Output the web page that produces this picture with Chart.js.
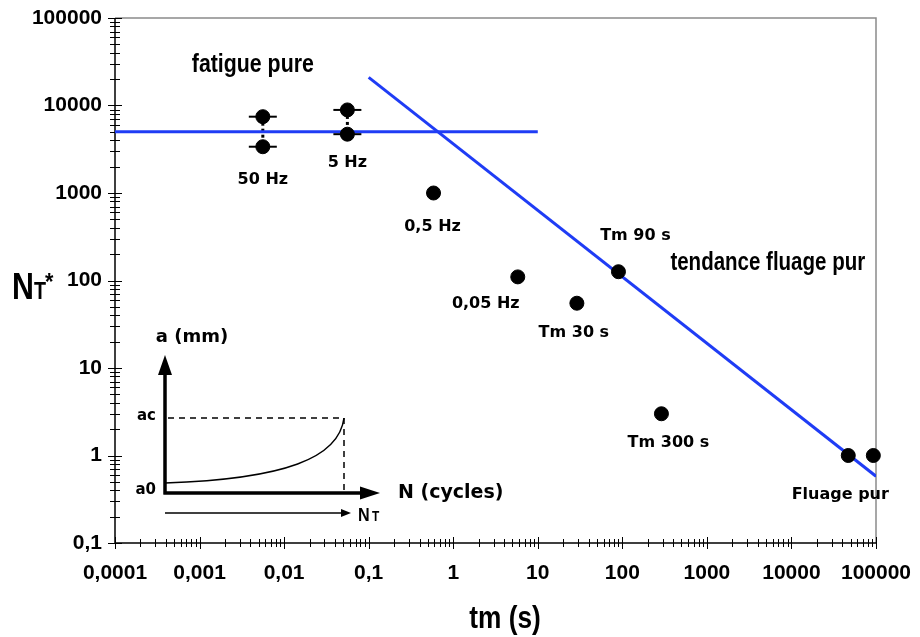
<!DOCTYPE html>
<html lang="fr">
<head>
<meta charset="UTF-8">
<title>NT* en fonction de tm</title>
<script src="https://cdn.jsdelivr.net/npm/chart.js"></script>
<style>
  body { margin: 0; background: white; }
  #wrap { width: 920px; height: 637px; }
</style>
</head>
<body>
<div id="wrap"><canvas id="chart" width="920" height="637"></canvas></div>
<script>
// essais : temps de maintien tm (s) et nombre de cycles NT*
const tmValues = [0.0056, 0.0056, 0.056, 0.056, 0.585, 5.8, 29, 90, 290, 47000, 93000];
const ntValues = [7450, 3380, 8900, 4700, 1000, 110, 55, 126, 3.0, 1.0, 1.0];
const pointNames = ['', '50 Hz', '', '5 Hz', '0,5 Hz', '0,05 Hz', 'Tm 30 s', 'Tm 90 s', 'Tm 300 s', 'Fluage pur', ''];
// décalage des étiquettes (px) par rapport au point
const labelOffsets = [[0, 0], [0, 33], [0, 0], [0, 29], [-1, 34], [-32, 27], [-3, 30], [17, -36], [7, 29], [-8, 39], [0, 0]];

// droites de tendance
const fatigueTm = [0.0001, 10];
const fatigueNt = [5000, 5000];
const fluageTm = [0.1, 100000];
const fluageNt = [21000, 0.58];

// graduations
const xTickValues = [0.0001, 0.001, 0.01, 0.1, 1, 10, 100, 1000, 10000, 100000];
const xTickLabels = ['0,0001', '0,001', '0,01', '0,1', '1', '10', '100', '1000', '10000', '100000'];
const yTickValues = [0.1, 1, 10, 100, 1000, 10000, 100000];
const yTickLabels = ['0,1', '1', '10', '100', '1000', '10000', '100000'];

const BLUE = '#1f3cf5';
const SANS = '"Liberation Sans", Arial, sans-serif';
const PLAIN = '"DejaVu Sans", sans-serif';

const pts = tmValues.map((t, i) => ({ x: t, y: ntValues[i] }));
const pairs = [[0, 1], [2, 3]];

const datasets = [
  {
    label: 'essais', data: pts, order: 0, clip: false,
    pointRadius: 7, pointHoverRadius: 7, backgroundColor: '#000', borderColor: '#000', showLine: false
  },
  {
    label: 'dispersion', data: [0, 1, 2, 3].map(i => pts[i]), order: 1, clip: false,
    pointStyle: 'line', pointRadius: 14, pointBorderWidth: 2, borderColor: '#000', showLine: false
  },
  {
    label: 'fatigue pure', data: fatigueTm.map((t, i) => ({ x: t, y: fatigueNt[i] })), order: 2,
    showLine: true, borderColor: BLUE, borderWidth: 3, pointRadius: 0
  },
  {
    label: 'tendance fluage pur', data: fluageTm.map((t, i) => ({ x: t, y: fluageNt[i] })), order: 2,
    showLine: true, borderColor: BLUE, borderWidth: 3, pointRadius: 0
  }
];
pairs.forEach(p => datasets.push({
  label: 'liaison', data: p.map(i => pts[i]), order: 3,
  showLine: true, borderColor: '#000', borderWidth: 3, borderDash: [3, 3], pointRadius: 0
}));

// texte libre (coordonnées en unités des axes)
const notes = [
  { text: 'fatigue pure', x: 0.00081, y: 24200, size: 26 },
  { text: 'tendance fluage pur', x: 370, y: 132, size: 25 }
];

// texte étroit : police normale comprimée horizontalement
function narrowText(ctx, text, x, y, size, sx) {
  ctx.save();
  ctx.font = 'bold ' + size + 'px ' + SANS;
  ctx.translate(x, y);
  ctx.scale(sx, 1);
  ctx.fillText(text, 0, 0);
  ctx.restore();
}

function arrowHead(ctx, x, y, dir, len, half) {
  ctx.beginPath();
  if (dir === 'up') {
    ctx.moveTo(x, y); ctx.lineTo(x - half, y + len); ctx.lineTo(x + half, y + len);
  } else {
    ctx.moveTo(x, y); ctx.lineTo(x - len, y - half); ctx.lineTo(x - len, y + half);
  }
  ctx.closePath();
  ctx.fill();
}

const decor = {
  id: 'decor',
  beforeDatasetsDraw(chart) {
    const { ctx, chartArea: a, scales: { x, y } } = chart;
    ctx.save();
    ctx.lineCap = 'butt';
    ctx.strokeStyle = '#8a8a8a';
    ctx.lineWidth = 1.5;
    ctx.beginPath();
    ctx.moveTo(a.left, a.top); ctx.lineTo(a.right, a.top); ctx.lineTo(a.right, a.bottom);
    ctx.stroke();
    ctx.strokeStyle = '#000';
    ctx.beginPath();
    ctx.moveTo(a.left, a.top); ctx.lineTo(a.left, a.bottom); ctx.lineTo(a.right, a.bottom);
    ctx.stroke();

    ctx.lineWidth = 1;
    ctx.beginPath();
    for (let e = -4; e <= 5; e++) {
      for (let m = 1; m <= 9; m++) {
        const v = m * Math.pow(10, e);
        if (v > x.max * 1.0001) break;
        const px = Math.round(x.getPixelForValue(v)) + 0.5;
        const h = m === 1 ? 6 : 4;
        ctx.moveTo(px, a.bottom - h); ctx.lineTo(px, a.bottom + h);
      }
    }
    for (let e = -1; e <= 5; e++) {
      for (let m = 1; m <= 9; m++) {
        const v = m * Math.pow(10, e);
        if (v > y.max * 1.0001) break;
        const py = Math.round(y.getPixelForValue(v)) + 0.5;
        const h = m === 1 ? 7 : 5;
        ctx.moveTo(a.left - h, py); ctx.lineTo(a.left + h, py);
      }
    }
    ctx.stroke();
    ctx.restore();
  },
  afterDatasetsDraw(chart) {
    const { ctx, chartArea: a, scales: { x, y } } = chart;
    ctx.save();
    ctx.fillStyle = '#000';
    ctx.strokeStyle = '#000';

    // étiquettes des points
    ctx.font = 'bold 16px ' + PLAIN;
    ctx.textAlign = 'center';
    ctx.textBaseline = 'middle';
    pointNames.forEach((name, i) => {
      if (!name) return;
      const px = x.getPixelForValue(tmValues[i]) + labelOffsets[i][0];
      const py = y.getPixelForValue(ntValues[i]) + labelOffsets[i][1];
      ctx.fillText(name, px, py);
    });

    ctx.textAlign = 'left';
    ctx.textBaseline = 'alphabetic';
    notes.forEach(n => narrowText(ctx, n.text, x.getPixelForValue(n.x), y.getPixelForValue(n.y), n.size, 0.82));

    // titres des axes
    ctx.textAlign = 'center';
    narrowText(ctx, 'tm (s)', 505, 628, 32, 0.82);
    ctx.textAlign = 'left';
    narrowText(ctx, 'N', 12, 299, 37, 0.82);
    narrowText(ctx, 'T', 34, 299, 24, 0.82);
    narrowText(ctx, '*', 45, 290, 24, 0.9);

    // schéma a = f(N)
    const ox = a.left + 50, oy = a.bottom - 50;
    ctx.lineWidth = 3.5;
    ctx.beginPath();
    ctx.moveTo(ox, oy + 1.5); ctx.lineTo(ox, a.bottom - 178);
    ctx.moveTo(ox - 1.5, oy); ctx.lineTo(ox + 200, oy);
    ctx.stroke();
    arrowHead(ctx, ox, a.bottom - 188, 'up', 20, 7);
    arrowHead(ctx, ox + 215, oy, 'right', 20, 6.5);

    const ex = ox + 179, ey = oy - 75;
    ctx.lineWidth = 1.5;
    ctx.beginPath();
    ctx.moveTo(ox, oy - 10);
    ctx.bezierCurveTo(ox + 120, oy - 14, ex - 5, oy - 35, ex, ey);
    ctx.stroke();
    ctx.setLineDash([6, 5]);
    ctx.beginPath();
    ctx.moveTo(ox + 3, ey); ctx.lineTo(ex, ey);
    ctx.moveTo(ex, ey); ctx.lineTo(ex, oy);
    ctx.stroke();
    ctx.setLineDash([]);

    ctx.lineWidth = 1.5;
    ctx.beginPath();
    ctx.moveTo(ox, oy + 20); ctx.lineTo(ox + 178, oy + 20);
    ctx.stroke();
    arrowHead(ctx, ox + 186, oy + 20, 'right', 10, 4);

    ctx.textBaseline = 'middle';
    ctx.font = 'bold 18px ' + PLAIN;
    ctx.textAlign = 'center';
    ctx.fillText('a (mm)', ox + 27, a.bottom - 206);
    ctx.font = 'bold 15px ' + PLAIN;
    ctx.textAlign = 'right';
    ctx.fillText('ac', ox - 9, ey - 2);
    ctx.fillText('a0', ox - 9, oy - 3);
    ctx.textAlign = 'left';
    ctx.font = 'bold 19px ' + PLAIN;
    ctx.fillText('N (cycles)', ox + 233, oy);
    ctx.textBaseline = 'alphabetic';
    narrowText(ctx, 'N', ox + 193, oy + 28, 19, 0.85);
    narrowText(ctx, 'T', ox + 207, oy + 28, 14, 0.85);
    ctx.restore();
  }
};

new Chart(document.getElementById('chart'), {
  type: 'scatter',
  data: { datasets },
  plugins: [decor],
  options: {
    responsive: false,
    animation: false,
    events: [],
    layout: { padding: { left: 0, top: 18, right: 44, bottom: 0 } },
    plugins: { legend: { display: false }, tooltip: { enabled: false } },
    scales: {
      x: {
        type: 'logarithmic', min: 0.0001, max: 100000,
        grid: { display: false, drawTicks: false },
        border: { display: false },
        afterBuildTicks: s => { s.ticks = xTickValues.map(v => ({ value: v })); },
        afterFit: s => { s.height = 94; s.paddingLeft = 0; s.paddingRight = 0; },
        ticks: {
          autoSkip: false, maxRotation: 0, padding: 18, color: '#000',
          font: { family: SANS, size: 21, weight: 'bold' },
          callback: v => xTickLabels[xTickValues.findIndex(t => Math.abs(t - v) / t < 1e-6)]
        }
      },
      y: {
        type: 'logarithmic', min: 0.1, max: 100000,
        grid: { display: false, drawTicks: false },
        border: { display: false },
        afterBuildTicks: s => { s.ticks = yTickValues.map(v => ({ value: v })); },
        afterFit: s => { s.width = 115; s.paddingTop = 0; s.paddingBottom = 0; },
        ticks: {
          autoSkip: false, padding: 13, color: '#000',
          font: { family: SANS, size: 21, weight: 'bold' },
          callback: v => yTickLabels[yTickValues.findIndex(t => Math.abs(t - v) / t < 1e-6)]
        }
      }
    }
  }
});
</script>
</body>
</html>
